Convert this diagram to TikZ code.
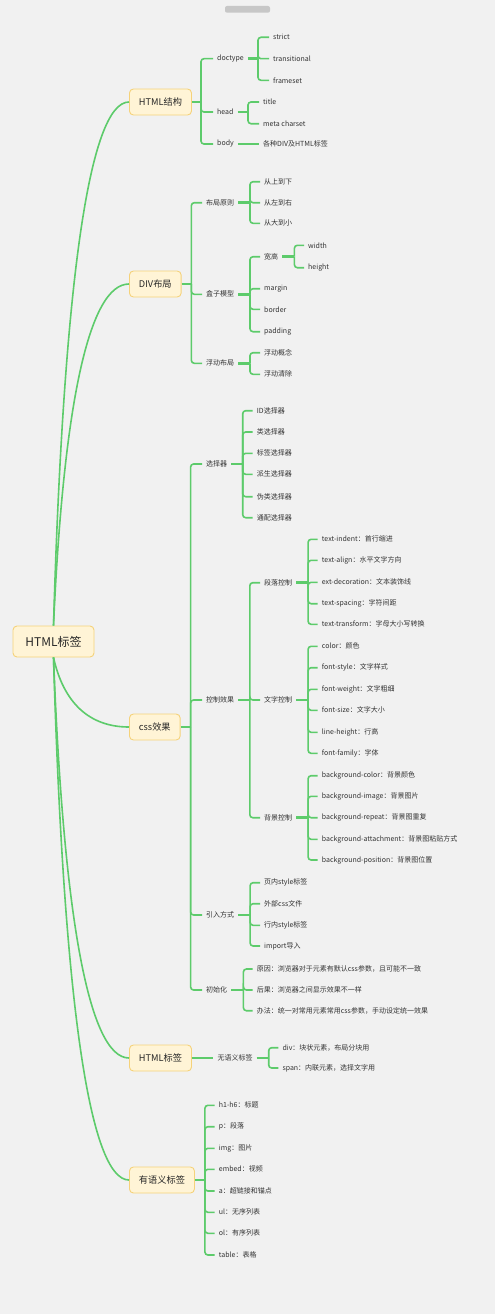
\documentclass[tikz,border=0pt]{standalone}
\usepackage{fontspec}
\setmainfont{Noto Sans CJK SC}
\usepackage{xcolor}
\usepackage{tikz}
\definecolor{fondo}{HTML}{F1F1F1}
\definecolor{rama}{HTML}{5DCB6B}
\definecolor{caja}{HTML}{FFF4D6}
\definecolor{borde}{HTML}{F5D27A}
\definecolor{texto}{HTML}{333333}

\begin{document}
\begin{tikzpicture}[x=1pt, y=-1pt,
  raiz/.style={draw=borde, fill=caja, rounded corners=4pt, line width=0.9pt, minimum width=81pt, minimum height=31pt, font=\fontsize{12}{14}\selectfont, text=black!85},
  tema/.style={draw=borde, fill=caja, rounded corners=4pt, line width=0.9pt, minimum height=26pt, inner xsep=9.5pt, anchor=west, font=\fontsize{9.2}{11}\selectfont, text=black!85},
  hoja/.style={anchor=west, inner xsep=4pt, inner ysep=1pt, font=\fontsize{7}{8}\selectfont, text=texto},
  link/.style={draw=rama, line width=1.6pt},
  stem/.style={draw=rama, line width=2.6pt},
  branch/.style={line width=1.6pt, rounded corners=3pt, to path={|- (\tikztotarget)}}]
\useasboundingbox (0,0) rectangle (495,1314);
\fill[fondo] (0,0) rectangle (495,1314);
\fill[black!22, rounded corners=2pt] (225,6) rectangle (270,12.7);

% Nodos principales
\node[raiz] (root) at (53.5,641.5) {HTML标签};
\node[tema] (html) at (129,102) {HTML结构};
\node[tema] (div) at (129,284) {DIV布局};
\node[tema] (css) at (129,727) {css效果};
\node[tema] (tag) at (129,1058) {HTML标签};
\node[tema] (sem) at (129,1180) {有语义标签};

% HTML结构
\node[hoja] (doctype) at (213,58.7) {doctype};
\node[hoja] (head) at (213,112) {head};
\node[hoja] (body) at (213,144) {body};
\node[hoja] (strict) at (269,37.3) {strict};
\node[hoja] (trans) at (269,58.7) {transitional};
\node[hoja] (frame) at (269,80.3) {frameset};
\node[hoja] (title) at (259,102) {title};
\node[hoja] (meta) at (259,123.7) {meta charset};
\node[hoja] (alltags) at (259,144) {各种DIV及HTML标签};

% DIV布局
\node[hoja] (rule) at (202,202.7) {布局原则};
\node[hoja] (boxm) at (202,294.3) {盒子模型};
\node[hoja] (float) at (202,363.3) {浮动布局};
\node[hoja] (r1) at (260,181.7) {从上到下};
\node[hoja] (r2) at (260,202.7) {从左到右};
\node[hoja] (r3) at (260,223.3) {从大到小};
\node[hoja] (wh) at (260,256.7) {宽高};
\node[hoja] (margin) at (260,288.7) {margin};
\node[hoja] (border) at (260,309.3) {border};
\node[hoja] (padding) at (260,331.7) {padding};
\node[hoja] (width) at (304,245.3) {width};
\node[hoja] (height) at (304,267.7) {height};
\node[hoja] (f1) at (260,352.7) {浮动概念};
\node[hoja] (f2) at (260,374.3) {浮动清除};

% css效果
\node[hoja] (sel) at (202,464) {选择器};
\node[hoja] (ctrl) at (202,700) {控制效果};
\node[hoja] (imp) at (202,915) {引入方式};
\node[hoja] (init) at (202,990) {初始化};
\node[hoja] (s1) at (252.7,410.7) {ID选择器};
\node[hoja] (s2) at (252.7,432) {类选择器};
\node[hoja] (s3) at (252.7,453.3) {标签选择器};
\node[hoja] (s4) at (252.7,474.3) {派生选择器};
\node[hoja] (s5) at (252.7,496.7) {伪类选择器};
\node[hoja] (s6) at (252.7,517.7) {通配选择器};
\node[hoja] (para) at (260,582.7) {段落控制};
\node[hoja] (font) at (260,700) {文字控制};
\node[hoja] (bg) at (260,817.7) {背景控制};
\node[hoja] (p1) at (317.7,539.3) {text-indent：首行缩进};
\node[hoja] (p2) at (317.7,560.3) {text-align：水平文字方向};
\node[hoja] (p3) at (317.7,582.3) {ext-decoration：文本装饰线};
\node[hoja] (p4) at (317.7,603.7) {text-spacing：字符间距};
\node[hoja] (p5) at (317.7,624.3) {text-transform：字母大小写转换};
\node[hoja] (t1) at (317.7,646.3) {color：颜色};
\node[hoja] (t2) at (317.7,667.7) {font-style：文字样式};
\node[hoja] (t3) at (317.7,689.3) {font-weight：文字粗细};
\node[hoja] (t4) at (317.7,710.3) {font-size：文字大小};
\node[hoja] (t5) at (317.7,732.3) {line-height：行高};
\node[hoja] (t6) at (317.7,753.3) {font-family：字体};
\node[hoja] (b1) at (317.7,775.7) {background-color：背景颜色};
\node[hoja] (b2) at (317.7,796.3) {background-image：背景图片};
\node[hoja] (b3) at (317.7,817.7) {background-repeat：背景图重复};
\node[hoja] (b4) at (317.7,839.3) {background-attachment：背景图粘贴方式};
\node[hoja] (b5) at (317.7,860) {background-position：背景图位置};
\node[hoja] (i1) at (260,882.7) {页内style标签};
\node[hoja] (i2) at (260,903.7) {外部css文件};
\node[hoja] (i3) at (260,925.3) {行内style标签};
\node[hoja] (i4) at (260,946) {import导入};
\node[hoja] (n1) at (252.7,969) {原因：浏览器对于元素有默认css参数，且可能不一致};
\node[hoja] (n2) at (252.7,990) {后果：浏览器之间显示效果不一样};
\node[hoja] (n3) at (252.7,1010.7) {办法：统一对常用元素常用css参数，手动设定统一效果};

% HTML标签
\node[hoja] (nosem) at (213.3,1058) {无语义标签};
\node[hoja] (d1) at (278.3,1047.7) {div：块状元素，布局分块用};
\node[hoja] (d2) at (278.3,1068) {span：内联元素，选择文字用};

% 有语义标签
\node[hoja] (e1) at (214.7,1105.3) {h1-h6：标题};
\node[hoja] (e2) at (214.7,1126.7) {p：段落};
\node[hoja] (e3) at (214.7,1148.3) {img：图片};
\node[hoja] (e4) at (214.7,1169.3) {embed：视频};
\node[hoja] (e5) at (214.7,1191) {a：超链接和锚点};
\node[hoja] (e6) at (214.7,1212.3) {ul：无序列表};
\node[hoja] (e7) at (214.7,1233.3) {ol：有序列表};
\node[hoja] (e8) at (214.7,1255) {table：表格};

% Curvas desde la raiz
\draw[link] (root.north) .. controls (63.5,285.4) and (89,102) .. (html.west);
\draw[link] (root.north) .. controls (63.5,403.7) and (89,284) .. (div.west);
\draw[link] (root.south) .. controls (63.5,702.5) and (89,727) .. (css.west);
\draw[link] (root.south) .. controls (63.5,917.7) and (89,1058) .. (tag.west);
\draw[link] (root.south) .. controls (63.5,997) and (89,1180) .. (sem.west);

% Ramas
\draw[stem] (html.east) -- ++(9,0)
  edge[branch] (doctype.west) edge[branch] (head.west) edge[branch] (body.west);
\draw[stem] (doctype.east) -- ++(10,0)
  edge[branch] (strict.west) edge[branch] (trans.west) edge[branch] (frame.west);
\draw[stem] (head.east) -- ++(10.3,0)
  edge[branch] (title.west) edge[branch] (meta.west);
\draw[stem] (body.east) -- (alltags.west);

\draw[stem] (div.east) -- ++(9.7,0)
  edge[branch] (rule.west) edge[branch] (boxm.west) edge[branch] (float.west);
\draw[stem] (rule.east) -- ++(11.6,0)
  edge[branch] (r1.west) edge[branch] (r2.west) edge[branch] (r3.west);
\draw[stem] (boxm.east) -- ++(11.6,0)
  edge[branch] (wh.west) edge[branch] (margin.west) edge[branch] (border.west) edge[branch] (padding.west);
\draw[stem] (wh.east) -- ++(12,0)
  edge[branch] (width.west) edge[branch] (height.west);
\draw[stem] (float.east) -- ++(11.6,0)
  edge[branch] (f1.west) edge[branch] (f2.west);

\draw[stem] (css.east) -- ++(10,0)
  edge[branch] (sel.west) edge[branch] (ctrl.west) edge[branch] (imp.west) edge[branch] (init.west);
\draw[stem] (sel.east) -- ++(11.3,0)
  edge[branch] (s1.west) edge[branch] (s2.west) edge[branch] (s3.west)
  edge[branch] (s4.west) edge[branch] (s5.west) edge[branch] (s6.west);
\draw[stem] (ctrl.east) -- ++(11.4,0)
  edge[branch] (para.west) edge[branch] (font.west) edge[branch] (bg.west);
\draw[stem] (para.east) -- ++(11.7,0)
  edge[branch] (p1.west) edge[branch] (p2.west) edge[branch] (p3.west) edge[branch] (p4.west) edge[branch] (p5.west);
\draw[stem] (font.east) -- ++(11.7,0)
  edge[branch] (t1.west) edge[branch] (t2.west) edge[branch] (t3.west)
  edge[branch] (t4.west) edge[branch] (t5.west) edge[branch] (t6.west);
\draw[stem] (bg.east) -- ++(11.7,0)
  edge[branch] (b1.west) edge[branch] (b2.west) edge[branch] (b3.west) edge[branch] (b4.west) edge[branch] (b5.west);
\draw[stem] (imp.east) -- ++(11.7,0)
  edge[branch] (i1.west) edge[branch] (i2.west) edge[branch] (i3.west) edge[branch] (i4.west);
\draw[stem] (init.east) -- ++(12,0)
  edge[branch] (n1.west) edge[branch] (n2.west) edge[branch] (n3.west);

\draw[link] (tag.east) -- (nosem.west);
\draw[stem] (nosem.east) -- ++(12,0)
  edge[branch] (d1.west) edge[branch] (d2.west);

\draw[stem] (sem.east) -- ++(10,0)
  edge[branch] (e1.west) edge[branch] (e2.west) edge[branch] (e3.west) edge[branch] (e4.west)
  edge[branch] (e5.west) edge[branch] (e6.west) edge[branch] (e7.west) edge[branch] (e8.west);
\end{tikzpicture}
\end{document}
